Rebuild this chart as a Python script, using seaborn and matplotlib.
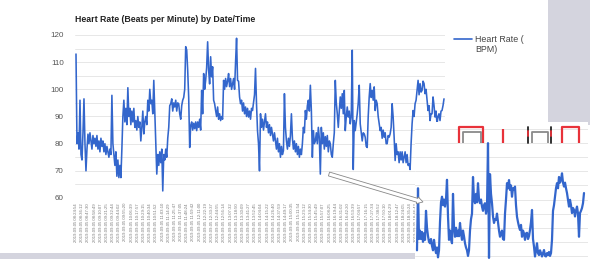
import numpy as np
import pandas as pd
import matplotlib
matplotlib.use("Agg")
import matplotlib.pyplot as plt
import seaborn as sns
from matplotlib.lines import Line2D
from matplotlib.patches import Rectangle, FancyArrow
from matplotlib.transforms import Affine2D

# ---------------- data ----------------
TITLE = "Heart Rate (Beats per Minute) by Date/Time"
LEGEND_LINES = ["Heart Rate (", "BPM)"]

heart_rate = [
    113, 80, 84, 78, 96, 76, 74, 84, 96.5, 80,
    70, 78, 83.5, 80, 84, 81, 78, 83, 80, 82,
    79, 83, 78, 81, 77, 82, 79, 81, 77, 80,
    76, 79, 77, 75, 78, 76, 97.8, 80, 76, 72,
    77, 68, 74, 67.5, 72, 67.5, 78, 90, 96, 88,
    93, 87, 100.6, 90, 93, 87, 92, 88, 93, 86,
    88.5, 85, 90, 86, 88, 81, 86, 92, 83.6, 88,
    90, 87, 96, 92, 100, 94.7, 96, 91, 103.3, 92,
    81, 68.8, 76, 72, 77, 73, 78, 62.6, 76, 74,
    78, 75, 82, 86, 94, 94.7, 96.5, 92, 95, 93.5,
    96, 92, 95, 94.7, 91, 89, 94, 96, 97, 100,
    115.7, 114.5, 107, 97, 78.6, 86.7, 88, 85, 87.5, 85.5,
    88, 84.8, 88, 86, 89, 85, 99.6, 91, 105.8, 100,
    103.3, 108, 117.5, 107, 102, 112, 104.6, 108.3, 96, 94.7,
    92.2, 90, 93.5, 89, 91, 88.5, 90, 89, 103.3, 100,
    104, 101, 103, 105.8, 101, 104, 100, 102.1, 104, 100,
    110, 118.8, 103.3, 103, 97.2, 94.7, 96, 92, 95, 91,
    93.5, 90, 93, 89.8, 92, 89, 93, 92.2, 95, 98,
    107.7, 94.7, 84.8, 80, 70, 91, 86, 89, 85, 88,
    91, 86, 88, 84, 87, 83, 86, 83.6, 81, 84,
    81, 78, 82, 77, 80, 75, 79, 76, 77.4, 98.4,
    86, 81, 78, 82, 79, 83, 91, 82, 78, 81,
    77, 80, 76, 79, 75, 78, 76, 80, 86, 84,
    92.2, 89, 94, 96, 92, 101.5, 92.2, 75, 84.8, 80,
    81, 84, 80, 86, 82, 68.8, 86, 80, 84, 78,
    82.6, 79, 83, 77, 81, 80, 76, 75, 80, 84,
    103.3, 95, 91, 86, 92, 97.2, 93, 98.4, 91, 99.6,
    84.8, 90, 93.5, 89.8, 92, 87.3, 90, 114.4, 70.5, 88.5,
    84.8, 88, 91, 95, 101.5, 87.3, 84, 81, 84, 83.6,
    82.4, 79, 78.6, 90, 97.2, 102.1, 97, 99.6, 96, 100.9,
    92.2, 96, 94.7, 90, 87.3, 84.8, 86, 82, 85, 82.4,
    84, 80, 80, 83, 82.4, 83.6, 86, 94.7, 89.8, 82.4,
    73.8, 80, 76, 77, 73, 77, 74, 77, 73, 75,
    77, 73, 76, 72, 72.6, 70.5, 80, 87.3, 92.2, 90,
    94.7, 96, 99.6, 103.3, 98, 102.1, 99, 99.6, 103, 102.1,
    98.4, 100, 96, 92.2, 94, 88.5, 91, 91, 97.2, 94,
    89.8, 92, 87.3, 90, 91, 88.5, 92, 92.2, 94, 96.5,
]

inset_rate = [
    62, 84, 66, 69, 66, 68.5, 65, 68, 65.7, 76,
    70, 67, 65, 64.5, 66, 63.5, 62, 65.7, 63, 61,
    63, 59.5, 62, 72, 79, 81, 78, 80, 77.5, 80,
    87, 74, 65.7, 69, 66, 64.5, 82, 70, 66.8, 70,
    67, 69, 67, 71.7, 68, 65.7, 69, 67, 64.5, 63,
    62, 60, 62, 69, 73, 75, 88, 80, 78.7, 82,
    79, 85.8, 80, 78.7, 80, 77.5, 76, 78, 78.7, 75,
    77, 100, 59.3, 89, 82, 78.7, 74, 71.7, 73, 72.8,
    75, 72, 69, 66.8, 68, 69, 66, 65.7, 75, 80,
    85.8, 84, 86.9, 83.4, 85, 81, 84, 83.4, 84.6, 78,
    73.9, 72, 70.4, 69.2, 71, 66.8, 69, 68, 65.7, 68,
    68.2, 66, 67, 69.2, 72, 76.3, 66, 63.3, 59.8, 62,
    64.5, 61, 60.3, 62, 61, 59.8, 61, 62.1, 60, 59.8,
    61, 60.3, 61.4, 60, 61, 65.7, 76, 78, 81, 84,
    85.8, 84, 88, 86, 87, 89.3, 86, 84.6, 86, 84,
    82.3, 80, 77.5, 79.9, 78, 75.2, 77, 76.3, 74, 76,
    77.5, 75, 66.8, 75.2, 76, 77, 78.7, 82.3,
]

y_major = [60, 70, 80, 90, 100, 110, 120]
y_minor = [65, 75, 85, 95, 105, 115]
inset_grid = [60, 65, 70, 75, 80, 85, 90, 95, 100, 105]

tick_date = "2019-09-05"
tick_times = [
    "08:24:54", "08:36:12", "08:47:30", "08:58:49", "09:10:07", "09:21:25",
    "09:32:44", "09:44:02", "09:55:20", "10:06:39", "10:17:57", "10:29:15",
    "10:40:34", "10:51:52", "11:03:10", "11:14:29", "11:25:47", "11:37:05",
    "11:48:24", "11:59:42", "12:11:00", "12:22:19", "12:33:37", "12:44:55",
    "12:56:14", "13:07:32", "13:18:50", "13:30:09", "13:41:27", "13:52:45",
    "14:04:04", "14:15:22", "14:26:40", "14:37:59", "14:49:17", "15:00:35",
    "15:11:54", "15:23:12", "15:34:30", "15:45:49", "15:57:07", "16:08:25",
    "16:19:44", "16:31:02", "16:42:20", "16:53:39", "17:04:57", "17:16:15",
    "17:27:34", "17:38:52", "17:50:10", "18:01:29", "18:12:47", "18:24:05",
    "18:35:24", "18:46:42", "18:58:00", "19:09:19", "19:20:37", "19:31:55",
]

# ---------------- style ----------------
W, H = 595, 261
BLUE = "#3366cc"
PANEL = "#d4d4de"

sns.set_theme(style="white")
plt.rcParams["font.family"] = ["Liberation Sans", "DejaVu Sans"]

fig = plt.figure(figsize=(W / 100, H / 100), dpi=100)
fig.patch.set_facecolor("white")
px = Affine2D().scale(1, -1).translate(0, H)   # pixel coords, origin top-left


def fax(l, t, r, b):
    return [l / W, 1 - b / H, (r - l) / W, (b - t) / H]


# ---------------- main chart ----------------
ax = fig.add_axes(fax(75, 35, 445, 198))
df = pd.DataFrame({"idx": np.arange(len(heart_rate)), "hr": heart_rate})
sns.lineplot(data=df, x="idx", y="hr", ax=ax, color=BLUE, linewidth=1.15,
             legend=False, zorder=3)
ax.set_xlim(-1, len(heart_rate))
ax.set_ylim(60, 120)
ax.set_yticks(y_major)
ax.set_yticklabels([str(v) for v in y_major])
ax.set_yticks(y_minor, minor=True)
ax.set_axisbelow(True)
ax.grid(axis="y", which="both", color="#e3e3e3", lw=0.6)
ax.grid(axis="x", visible=False)
ax.tick_params(axis="y", which="both", length=0, pad=8, labelsize=5.8,
               labelcolor="#555555")
labels = [f"{tick_date} {t}" for t in tick_times]
ax.set_xticks(np.linspace(0, 365.8, len(labels)))
ax.set_xticklabels(labels, rotation=90, fontsize=3.1, color="#7a7a7a", va="top")
ax.tick_params(axis="x", length=0, pad=3.6)
for s in ax.spines.values():
    s.set_visible(False)
ax.set_xlabel("")
ax.set_ylabel("")

fig.text(75 / W, 1 - 19 / H, TITLE, fontweight="bold", fontsize=6.3,
         ha="left", va="center", color="#222222")

# legend
fig.add_artist(Line2D([454, 472], [39, 39], color=BLUE, lw=1.2, transform=px))
fig.text(475 / W, 1 - 39 / H, LEGEND_LINES[0], fontsize=6.4, ha="left",
         va="center", color="#444444")
fig.text(475 / W, 1 - 49 / H, LEGEND_LINES[1], fontsize=6.4, ha="left",
         va="center", color="#444444")

# ---------------- decorations ----------------
fig.add_artist(Rectangle((548, 0), 42, 125, transform=px, fc=PANEL, ec="none",
                         zorder=0.5))
fig.add_artist(Rectangle((0, 253), 415, 5.5, transform=px, fc=PANEL, ec="none",
                         zorder=0.5))

# ---------------- inset ----------------
iax = fig.add_axes(fax(415, 122, 588, 261))
iax.set_zorder(2)
iax.set_facecolor("white")
idf = pd.DataFrame({"idx": np.arange(len(inset_rate)), "hr": inset_rate})
sns.lineplot(data=idf, x="idx", y="hr", ax=iax, color=BLUE, linewidth=1.6,
             legend=False, zorder=3)
iax.set_xlim(-2, len(inset_rate) + 3)
iax.set_ylim(58.2, 107.5)
iax.set_yticks(inset_grid)
iax.set_axisbelow(True)
iax.grid(axis="y", color="#e3e3e3", lw=0.6)
iax.grid(axis="x", visible=False)
iax.set_xticks([])
iax.tick_params(axis="y", length=0, labelleft=False)
for s in iax.spines.values():
    s.set_visible(False)
iax.set_xlabel("")
iax.set_ylabel("")

# bracket marks above the inset
RED = "#e8323a"
GREY = "#8a8a8a"
marks = [
    ([459, 459, 483, 483], [143, 127, 127, 143], RED, 1.6),
    ([463, 463, 481, 481], [143, 132, 132, 143], GREY, 1.3),
    ([503, 503], [129, 143], RED, 1.6),
    ([532, 532, 548, 548], [143, 132, 132, 143], GREY, 1.3),
    ([562, 562, 579, 579], [143, 127, 127, 143], RED, 1.6),
]
for xs, ys, c, lw in marks:
    fig.add_artist(Line2D(xs, ys, color=c, lw=lw, transform=px, zorder=6,
                          solid_capstyle="butt"))
for xx in (528, 551):
    fig.add_artist(Line2D([xx, xx], [127, 143], color="#222222", lw=1.3,
                          transform=px, zorder=6))
    fig.add_artist(Line2D([xx, xx], [131, 136], color=RED, lw=1.3,
                          transform=px, zorder=7))

# arrow
fig.add_artist(FancyArrow(329, 174, 94, 28, width=4, head_width=7,
                          head_length=6, length_includes_head=True,
                          fc="white", ec="#888888", lw=0.6, transform=px,
                          zorder=8))

fig.savefig("out.png", dpi=100, facecolor="white")
